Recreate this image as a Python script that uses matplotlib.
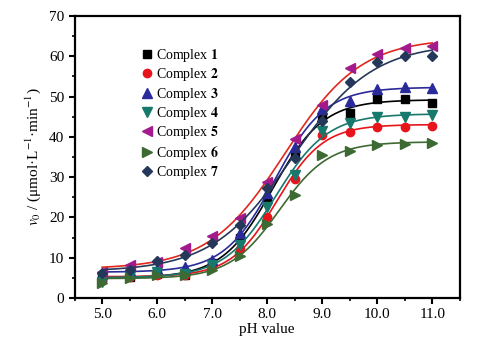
import numpy as np
import matplotlib
matplotlib.use("Agg")
import matplotlib.pyplot as plt

plt.rcParams['font.family'] = ['Liberation Serif', 'DejaVu Serif']
plt.rcParams['mathtext.fontset'] = 'stix'

# pH values and initial rates
ph = [5.0, 5.5, 6.0, 6.5, 7.0, 7.5, 8.0, 8.5, 9.0, 9.5, 10.0, 10.5, 11.0]
c1 = [5.0, 5.3, 6.0, 5.7, 8.7, 14.9, 24.3, 35.8, 44.8, 46.0, 49.3, 49.5, 48.3]
c2 = [4.5, 5.3, 5.8, 5.8, 8.0, 12.2, 20.1, 29.5, 40.5, 41.3, 42.5, 42.5, 42.7]
c3 = [6.0, 6.8, 7.2, 7.7, 9.4, 16.1, 26.0, 37.5, 47.0, 49.0, 51.8, 52.3, 52.0]
c4 = [4.0, 5.5, 6.5, 6.0, 8.2, 13.2, 22.6, 30.5, 41.5, 43.5, 45.0, 45.0, 45.5]
c5 = [6.5, 8.2, 9.0, 12.4, 15.4, 19.9, 28.8, 39.5, 48.0, 57.0, 60.5, 62.0, 62.5]
c6 = [3.7, 5.0, 5.8, 5.8, 7.0, 10.4, 18.4, 25.5, 35.5, 36.5, 38.0, 38.3, 38.5]
c7 = [6.2, 7.0, 9.2, 10.7, 13.6, 18.1, 27.3, 34.7, 43.8, 53.5, 58.5, 60.0, 60.0]

series = [c1, c2, c3, c4, c5, c6, c7]
labels = [r"Complex $\mathbf{%d}$" % i for i in range(1, 8)]
markers = ['s', 'o', '^', 'v', '<', '>', 'D']
mcolors = ['#000000', '#e8141c', '#2a2a9a', '#17786c', '#a21a8c', '#3d6a33', '#26385a']
lcolors = ['#000000', '#e8141c', '#2a2a9a', '#17786c', '#e0281c', '#3d6a33', '#26385a']
msizes = [5.5, 6, 6.5, 6.5, 6.5, 6.5, 5.5]


def boltzmann_fit(x, y):
    # grid over x0, dx; A1/A2 by linear least squares
    x = np.asarray(x); y = np.asarray(y)
    best = None
    for x0 in np.linspace(7.0, 9.5, 126):
        for dx in np.linspace(0.15, 1.5, 136):
            s = 1.0 / (1.0 + np.exp((x - x0) / dx))
            M = np.column_stack([s, 1 - s])
            coef, *_ = np.linalg.lstsq(M, y, rcond=None)
            err = np.sum((M @ coef - y) ** 2)
            if best is None or err < best[0]:
                best = (err, x0, dx, coef)
    _, x0, dx, (a1, a2) = best
    return lambda t: a2 + (a1 - a2) / (1.0 + np.exp((t - x0) / dx))


fig = plt.figure(figsize=(4.88, 3.45), dpi=100)
ax = fig.add_axes([0.153, 0.136, 0.789, 0.818])

xs = np.linspace(5.0, 11.0, 300)
for y, lab, m, mc, lc, ms in zip(series, labels, markers, mcolors, lcolors, msizes):
    f = boltzmann_fit(ph, y)
    ax.plot(xs, f(xs), color=lc, lw=1.2)
    ax.plot(ph, y, ls='none', marker=m, color=mc, ms=ms, label=lab)

ax.set_xlim(4.5, 11.5)
ax.set_ylim(0, 70)
ax.set_xticks(np.arange(5, 11.5, 1.0))
ax.set_xticklabels(["%.1f" % v for v in np.arange(5, 11.5, 1.0)])
ax.set_xticks(np.arange(4.5, 11.6, 0.5), minor=True)
ax.set_yticks(np.arange(0, 71, 10))
ax.set_yticks(np.arange(0, 71, 5), minor=True)
ax.tick_params(direction='out', length=4, width=1.5, labelsize=11)
ax.tick_params(which='minor', direction='out', length=2.5, width=1.2)
for sp in ax.spines.values():
    sp.set_linewidth(1.6)

ax.set_xlabel("pH value", fontsize=11, labelpad=1)
ax.set_ylabel(r"$v_0$ / (μmol·L$^{-1}$·min$^{-1}$)", fontsize=11)

ax.legend(loc='upper left', bbox_to_anchor=(0.16, 0.91), frameon=False,
          fontsize=10, handlelength=0.8, handletextpad=0.2,
          labelspacing=0.17, borderaxespad=0)

fig.savefig("out.png", dpi=100)
